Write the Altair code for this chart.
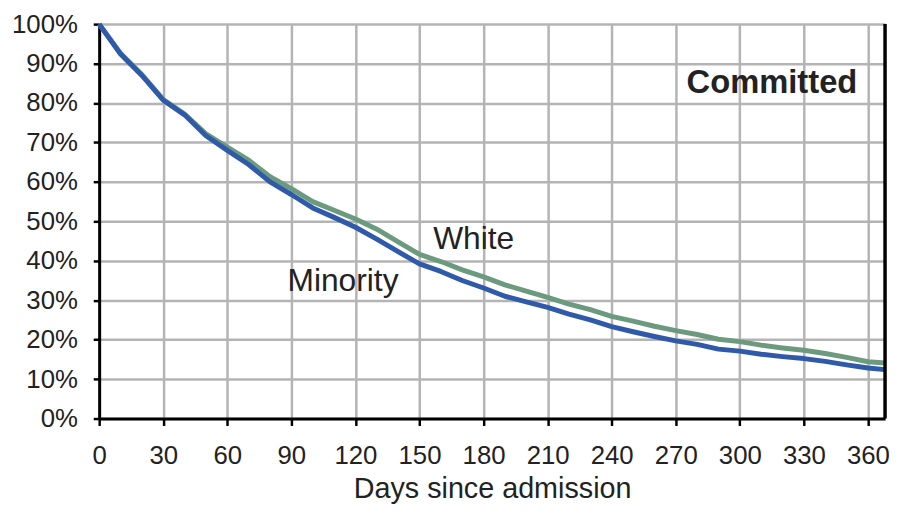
import altair as alt
import pandas as pd

# ---- data ----
days = [0, 10, 20, 30, 40, 50, 60, 70, 80, 90, 100, 110, 120, 130, 140, 150, 160, 170, 180,
        190, 200, 210, 220, 230, 240, 250, 260, 270, 280, 290, 300, 310, 320, 330, 340, 350, 360, 368]
minority = [100, 92.4, 87.0, 80.7, 77.0, 71.7, 68.0, 64.4, 60.0, 56.8, 53.4, 51.0, 48.5, 45.5, 42.3,
            39.2, 37.3, 35.0, 33.1, 31.0, 29.6, 28.2, 26.5, 25.0, 23.3, 22.0, 20.8, 19.7, 18.8, 17.6,
            17.1, 16.3, 15.7, 15.2, 14.5, 13.6, 12.8, 12.4]
white = [100, 92.6, 87.2, 80.9, 77.2, 72.2, 68.8, 65.5, 61.3, 58.3, 55.0, 52.8, 50.6, 48.0, 44.8,
         41.6, 39.8, 37.7, 35.9, 33.9, 32.3, 30.7, 29.0, 27.6, 25.9, 24.7, 23.4, 22.3, 21.3, 20.1,
         19.5, 18.6, 17.9, 17.3, 16.5, 15.5, 14.4, 14.1]

x_ticks = [0, 30, 60, 90, 120, 150, 180, 210, 240, 270, 300, 330, 360]
y_ticks = [0, 0.1, 0.2, 0.3, 0.4, 0.5, 0.6, 0.7, 0.8, 0.9, 1.0]
x_max = 368

ann_text = ["White", "Minority"]
ann_day = [156.4, 88.2]
ann_share = [0.454, 0.349]

corner_text = ["Committed"]
corner_day = [355]
corner_share = [0.851]

BLUE = "#2f5aa9"
GREEN = "#6b9a7e"
TEXT = "#222222"
GRID = "#b4b4b4"
FONT = "Liberation Sans"

df_white = pd.DataFrame({"day": days, "share": [v / 100 for v in white]})
df_min = pd.DataFrame({"day": days, "share": [v / 100 for v in minority]})
df_ann = pd.DataFrame({"label": ann_text, "day": ann_day, "share": ann_share})
df_corner = pd.DataFrame({"label": corner_text, "day": corner_day, "share": corner_share})
df_edge = pd.DataFrame({"day": [x_max]})

x_scale = alt.Scale(domain=[0, x_max], nice=False, zero=False)
y_scale = alt.Scale(domain=[0, 1], nice=False)

x_axis = alt.Axis(values=x_ticks, title="Days since admission", grid=True,
                  labelPadding=17, titlePadding=7, tickSize=7,
                  labelOverlap=False, labelFlush=False)
y_axis = alt.Axis(values=y_ticks, format=".0%", title=None, grid=True,
                  labelPadding=16, tickSize=6,
                  labelOverlap=False, labelFlush=False)

x_enc = alt.X("day:Q", scale=x_scale, axis=x_axis)
y_enc = alt.Y("share:Q", scale=y_scale, axis=y_axis)

white_line = alt.Chart(df_white).mark_line(
    color=GREEN, strokeWidth=5, strokeJoin="round", strokeCap="butt"
).encode(x=x_enc, y=y_enc)

min_line = alt.Chart(df_min).mark_line(
    color=BLUE, strokeWidth=5, strokeJoin="round", strokeCap="butt"
).encode(x=x_enc, y=y_enc)

edge = alt.Chart(df_edge).mark_rule(color="black", strokeWidth=3.5).encode(
    x=x_enc,
    y=alt.Y(datum=0, scale=y_scale, axis=y_axis),
    y2=alt.Y2(datum=1),
)

ann = alt.Chart(df_ann).mark_text(
    align="left", baseline="middle", font=FONT, fontSize=32, color=TEXT
).encode(x=x_enc, y=y_enc, text="label:N")

corner = alt.Chart(df_corner).mark_text(
    align="right", baseline="middle", font=FONT, fontSize=33, fontWeight="bold", color=TEXT
).encode(x=x_enc, y=y_enc, text="label:N")

chart = alt.layer(white_line, min_line, edge, ann, corner).properties(
    width=793, height=398,
    autosize=alt.AutoSizeParams(type="none"),
    padding={"left": 92, "top": 14, "right": 5, "bottom": 87},
).configure_view(stroke=None).configure_axis(
    domainColor="black", domainWidth=3,
    tickColor="black", tickWidth=2.5,
    gridColor=GRID, gridWidth=2.5,
    labelFont=FONT, labelFontSize=26, labelColor=TEXT,
    labelOverlap=False,
    titleFont=FONT, titleFontSize=29, titleFontWeight="normal", titleColor=TEXT,
)

chart.save("out.html", embed_options={"renderer": "svg", "actions": False})
